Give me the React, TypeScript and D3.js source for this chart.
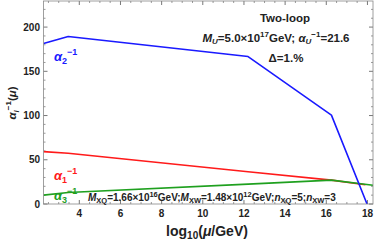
import * as d3 from "d3";
import React from "react";

// log10(mu/GeV) vs alpha_i^-1
const alpha2X = [2.26, 3.46, 12.2, 16.25, 17.98];
const alpha2Y = [181.5, 189.3, 166.7, 100.5, 0];
const alpha1X = [2.26, 3.46, 12.2, 16.25, 17.9];
const alpha1Y = [59.2, 57.4, 36.5, 27.0, 21.8];
const alpha3X = [2.26, 3.46, 12.2, 16.25, 18.27];
const alpha3Y = [10.0, 13.0, 22.5, 27.0, 21.2];

const xTicks = [4, 6, 8, 10, 12, 14, 16, 18];
const yTicks = [0, 50, 100, 150, 200];

const W = 374;
const H = 243;
const FONT = "'Liberation Sans', Arial, sans-serif";

function App() {
  const left = 43.5, right = 373, top = 1, bottom = 204;

  const x = d3.scaleLinear().domain([2.26, 18.27]).range([left, right]);
  const y = d3.scaleLinear().domain([0, 229.5]).range([bottom, top]);

  const line = d3.line<[number, number]>()
    .x(d => x(d[0]))
    .y(d => y(d[1]));

  const zip = (xs: number[], ys: number[]) => xs.map((v, i) => [v, ys[i]] as [number, number]);

  const xMinor = d3.range(2.5, 18.3, 0.5).filter(v => v % 2 !== 0);
  const yMinor = d3.range(10, 230, 10).filter(v => v % 50 !== 0);

  const tickCol = "#555";

  return (
    <svg width={W} height={H} style={{ position: "absolute", left: 0, top: 0 }}
      fontFamily={FONT}>
      <defs>
        <clipPath id="plot">
          <rect x={left} y={top} width={right - left} height={bottom - top} />
        </clipPath>
      </defs>

      {/* ticks, inside the frame on all four sides */}
      {xTicks.map(t => (
        <g key={"xt" + t}>
          <line x1={x(t)} x2={x(t)} y1={bottom} y2={bottom - 4} stroke={tickCol} strokeWidth={0.8} />
          <line x1={x(t)} x2={x(t)} y1={top} y2={top + 4} stroke={tickCol} strokeWidth={0.8} />
          <text x={x(t)} y={217} textAnchor="middle" fontSize={10} fontWeight="bold" fill="#222">{t}</text>
        </g>
      ))}
      {xMinor.map(t => (
        <g key={"xm" + t}>
          <line x1={x(t)} x2={x(t)} y1={bottom} y2={bottom - 2} stroke={tickCol} strokeWidth={0.6} />
          <line x1={x(t)} x2={x(t)} y1={top} y2={top + 2} stroke={tickCol} strokeWidth={0.6} />
        </g>
      ))}
      {yTicks.map(t => (
        <g key={"yt" + t}>
          <line x1={left} x2={left + 4} y1={y(t)} y2={y(t)} stroke={tickCol} strokeWidth={0.8} />
          <line x1={right} x2={right - 4} y1={y(t)} y2={y(t)} stroke={tickCol} strokeWidth={0.8} />
          <text x={40} y={y(t) + 3.5} textAnchor="end" fontSize={10} fontWeight="bold" fill="#222">{t}</text>
        </g>
      ))}
      {yMinor.map(t => (
        <g key={"ym" + t}>
          <line x1={left} x2={left + 2} y1={y(t)} y2={y(t)} stroke={tickCol} strokeWidth={0.6} />
          <line x1={right} x2={right - 2} y1={y(t)} y2={y(t)} stroke={tickCol} strokeWidth={0.6} />
        </g>
      ))}

      {/* labels under the curves */}
      <text x={54} y={61} fontSize={13} fontWeight="bold" fill="#1a1aff">
        <tspan fontStyle="italic">α</tspan><tspan fontSize={9} dy={3}>2</tspan>
        <tspan fontSize={9} dy={-9}>−1</tspan>
      </text>
      <text x={54} y={180} fontSize={13} fontWeight="bold" fill="#ff1a1a">
        <tspan fontStyle="italic">α</tspan><tspan fontSize={9} dy={3}>1</tspan>
        <tspan fontSize={9} dy={-9}>−1</tspan>
      </text>
      <text x={54} y={200} fontSize={13} fontWeight="bold" fill="#1fa01f">
        <tspan fontStyle="italic">α</tspan><tspan fontSize={9} dy={3}>3</tspan>
        <tspan fontSize={9} dy={-9}>−1</tspan>
      </text>

      <g clipPath="url(#plot)" fill="none" strokeWidth={1.6} strokeLinejoin="round">
        <path d={line(zip(alpha1X, alpha1Y)) || ""} stroke="#ff1a1a" />
        <path d={line(zip(alpha3X, alpha3Y)) || ""} stroke="#1fa01f" />
        <path d={line(zip(alpha2X, alpha2Y)) || ""} stroke="#1a1aff" />
      </g>

      <rect x={left} y={top} width={right - left} height={bottom - top} fill="none" stroke="#888" strokeWidth={0.8} />

      {/* annotations */}
      <g fontWeight="bold" fill="#222" textAnchor="middle">
        <text x={285} y={22} fontSize={11.5}>Two-loop</text>
        <text x={276} y={42} fontSize={11.5}>
          <tspan fontStyle="italic">M</tspan><tspan fontSize={8} dy={2} fontStyle="italic">U</tspan>
          <tspan dy={-2}>=5.0×10</tspan><tspan fontSize={8} dy={-5}>17</tspan>
          <tspan dy={5}>GeV; </tspan><tspan fontStyle="italic">α</tspan>
          <tspan fontSize={8} dy={2} fontStyle="italic">U</tspan><tspan fontSize={8} dy={-7}>−1</tspan>
          <tspan dy={5}>=21.6</tspan>
        </text>
        <text x={286} y={62} fontSize={11.5}>Δ=1.%</text>
      </g>
      <text x={88} y={201} fontSize={10} fontWeight="bold" fill="#222">
        <tspan fontStyle="italic">M</tspan><tspan fontSize={7.5} dy={2}>XQ</tspan>
        <tspan dy={-2}>=1.66×10</tspan><tspan fontSize={7.5} dy={-4}>16</tspan>
        <tspan dy={4}>GeV;</tspan><tspan fontStyle="italic">M</tspan><tspan fontSize={7.5} dy={2}>XW</tspan>
        <tspan dy={-2}>=1.48×10</tspan><tspan fontSize={7.5} dy={-4}>12</tspan>
        <tspan dy={4}>GeV;</tspan><tspan fontStyle="italic">n</tspan><tspan fontSize={7.5} dy={2}>XQ</tspan>
        <tspan dy={-2}>=5;</tspan><tspan fontStyle="italic">n</tspan><tspan fontSize={7.5} dy={2}>XW</tspan>
        <tspan dy={-2}>=3</tspan>
      </text>

      {/* axis titles */}
      <text x={207} y={236} textAnchor="middle" fontSize={14} fontWeight="bold" fill="#222">
        log<tspan fontSize={10} dy={3}>10</tspan><tspan dy={-3}>(</tspan>
        <tspan fontStyle="italic">μ</tspan>/GeV)
      </text>
      <text transform="translate(16,103) rotate(-90)" textAnchor="middle" fontSize={11.5} fontWeight="bold" fill="#222">
        <tspan fontStyle="italic">α</tspan><tspan fontSize={8} dy={3} fontStyle="italic">i</tspan>
        <tspan fontSize={8} dy={-8}>−1</tspan><tspan dy={5}>(</tspan>
        <tspan fontStyle="italic">μ</tspan>)
      </text>
    </svg>
  );
}

export default App;
